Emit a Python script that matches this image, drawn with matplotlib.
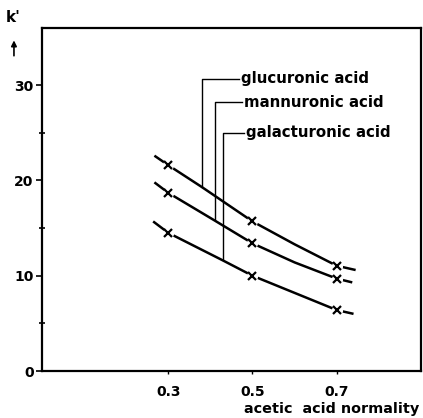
import matplotlib
matplotlib.use("Agg")
import matplotlib.pyplot as plt

# Data
marker_x = [0.3, 0.5, 0.7]
gluc_marks = [21.6, 15.7, 11.05]
mann_marks = [18.7, 13.4, 9.7]
gala_marks = [14.5, 10.0, 6.4]

gluc_x = [0.267, 0.3, 0.38, 0.5, 0.6, 0.7, 0.745]
gluc_y = [22.6, 21.6, 19.3, 15.7, 13.3, 11.05, 10.6]
mann_x = [0.267, 0.3, 0.41, 0.5, 0.6, 0.7, 0.737]
mann_y = [19.8, 18.7, 15.8, 13.4, 11.4, 9.7, 9.3]
gala_x = [0.264, 0.3, 0.43, 0.5, 0.6, 0.7, 0.74]
gala_y = [15.7, 14.5, 11.6, 10.0, 8.2, 6.4, 6.0]

labels = ["glucuronic acid", "mannuronic acid", "galacturonic acid"]
leader_x = [0.381, 0.41, 0.431]
leader_bottom = [19.3, 15.8, 11.6]
leader_top = [30.7, 28.2, 25.0]
leader_end = [0.469, 0.476, 0.48]

yticks = [0, 10, 20, 30]
yminor = [5, 15, 25]
xticks = [0.3, 0.5, 0.7]
xticklabels = ["0.3", "0.5", "0.7"]

fig = plt.figure(figsize=(4.23, 4.18), dpi=100)
ax = fig.add_axes([0.0993, 0.1124, 0.8957, 0.8206])

for xs, ys, mx, my in [(gluc_x, gluc_y, marker_x, gluc_marks),
                       (mann_x, mann_y, marker_x, mann_marks),
                       (gala_x, gala_y, marker_x, gala_marks)]:
    ax.plot(xs, ys, color="black", lw=1.8, solid_capstyle="butt", zorder=2)
    ax.plot(mx, my, ls="none", marker="o", ms=7, mfc="white", mec="white", zorder=3)
    ax.plot(mx, my, ls="none", marker="x", ms=6, mew=1.6, color="black", zorder=4)

for lab, lx, lb, lt, le in zip(labels, leader_x, leader_bottom, leader_top, leader_end):
    ax.plot([lx, lx, le], [lb, lt, lt], color="black", lw=1.0, zorder=1)
    ax.text(le + 0.004, lt, lab, fontsize=10.8, fontweight="bold", va="center", ha="left")

ax.set_xlim(0, 0.9)
ax.set_ylim(0, 36)
ax.set_yticks(yticks)
ax.set_yticklabels([str(t) for t in yticks], fontsize=10, fontweight="bold")
ax.set_yticks(yminor, minor=True)
ax.set_xticks(xticks)
ax.set_xticklabels(xticklabels, fontsize=10, fontweight="bold")
ax.tick_params(axis="y", which="major", direction="out", length=4, width=1.2, pad=2)
ax.tick_params(axis="y", which="minor", direction="inout", length=4, width=1.2)
ax.tick_params(axis="x", which="major", direction="out", length=2, width=1.0, pad=8)
for s in ax.spines.values():
    s.set_linewidth(1.6)

fig.text(0.99, 0.005, "acetic  acid normality", fontsize=10.4, fontweight="bold",
         ha="right", va="bottom")
fig.text(0.03, 0.957, "k'", fontsize=11, fontweight="bold", ha="center", va="center")
fig.add_artist(matplotlib.patches.FancyArrowPatch((0.033, 0.86), (0.033, 0.91),
               transform=fig.transFigure, arrowstyle="-|>", mutation_scale=8,
               color="black", lw=1.2))

fig.savefig("out.png", dpi=100)
